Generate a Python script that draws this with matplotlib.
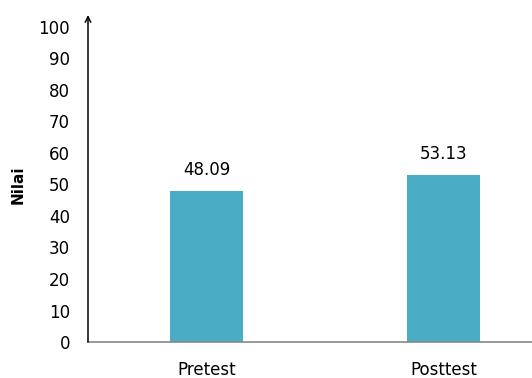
import matplotlib.pyplot as plt

categories = ['Pretest', 'Posttest']
values = [48.09, 53.13]
yticks = [0, 10, 20, 30, 40, 50, 60, 70, 80, 90, 100]

plt.rcParams['font.family'] = 'DejaVu Sans'

fig = plt.figure(figsize=(5.32, 3.78), dpi=100)
ax = fig.add_axes([88 / 532, 1 - 342 / 378, 1 - 88 / 532, (342 - 15) / 378])

x = range(len(categories))
ax.bar(x, values, width=0.31, color='#4BACC6')

# nilai di atas batang
for xi, v in zip(x, values):
    ax.text(xi, v + 6.4, '%.2f' % v, ha='center', va='center', fontsize=12)

ax.set_xlim(-0.5, -0.5 + 444 / 237)
ax.set_ylim(0, 100 + 12 / 3.15)
ax.set_yticks(yticks)
ax.set_yticklabels([str(t) for t in yticks], fontsize=12)
ax.set_xticks(list(x))
ax.set_xticklabels(categories, fontsize=12)
ax.tick_params(axis='y', length=0, pad=13)
ax.tick_params(axis='x', length=0, pad=14)

for s in ['top', 'right', 'left']:
    ax.spines[s].set_visible(False)
ax.spines['bottom'].set_color('#888888')
ax.spines['bottom'].set_linewidth(1.2)

ax.annotate('', xy=(0, 1), xycoords='axes fraction', xytext=(0, 0),
            arrowprops=dict(arrowstyle='->', color='black', lw=1.1,
                            shrinkA=0, shrinkB=0))

fig.text(18 / 532, 1 - 185 / 378, 'Nilai', rotation=90, ha='center', va='center',
         fontsize=11, fontweight='bold')

fig.savefig('out.png', dpi=100)
